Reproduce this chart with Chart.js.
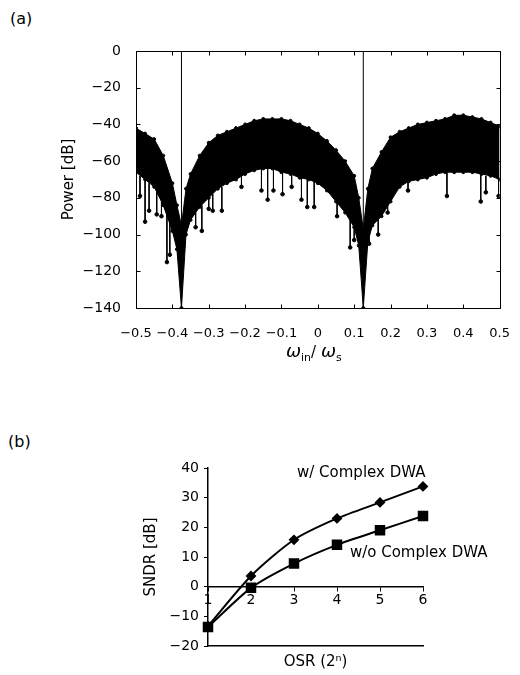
<!DOCTYPE html>
<html>
<head>
<meta charset="utf-8">
<script src="https://cdn.jsdelivr.net/npm/chart.js@4.4.1/dist/chart.umd.min.js"></script>
<style>
body { margin: 0; background: #fff; width: 520px; height: 675px; position: relative; overflow: hidden; font-family: "DejaVu Sans"; }
canvas { position: absolute; left: 0; }
#spectrum { top: 0; }
#sndr { top: 380px; }
.tag { position: absolute; font-size: 16px; color: #000; }
</style>
</head>
<body>
<div class="tag" style="left:10px;top:9px">(a)</div>
<div class="tag" style="left:8px;top:432px">(b)</div>
<canvas id="spectrum" width="520" height="380"></canvas>
<canvas id="sndr" width="520" height="295"></canvas>
<script>
Chart.defaults.font.family = 'DejaVu Sans';
Chart.defaults.font.size = 14;
Chart.defaults.color = '#000';

// (a) output spectrum: upper and lower edge of the dense noise band
var freq = [-0.5, -0.475, -0.45, -0.425, -0.4, -0.3875, -0.375, -0.3625, -0.35, -0.325, -0.3, -0.275, -0.25,
	-0.225, -0.2, -0.175, -0.15, -0.125, -0.1, -0.075, -0.05, -0.025, 0, 0.025, 0.05, 0.075, 0.1,
	0.1125, 0.125, 0.1375, 0.15, 0.175, 0.2, 0.225, 0.25, 0.275, 0.3, 0.325, 0.35, 0.375, 0.4,
	0.425, 0.45, 0.475, 0.5];
var noiseTop = [-42, -45, -48, -57, -72, -84, -95, -75, -67, -57, -50, -46, -44,
	-42, -40, -38, -37, -37, -37, -38, -40, -42, -45, -49, -54, -60, -68,
	-80, -97, -75, -64, -55, -47, -44, -42, -40, -39, -38, -37, -35, -35,
	-36, -37, -39, -41];
var noiseBottom = [-66, -70, -74, -84, -98, -108, -140, -100, -92, -85, -80, -75, -72,
	-70, -67, -65, -64, -64, -66, -67, -69, -70, -72, -76, -82, -88, -96,
	-106, -140, -104, -95, -90, -82, -74, -71, -70, -69, -67, -66, -66, -66,
	-66, -67, -68, -70];

// isolated deep bins below the band
var spikeX = [-0.489, -0.475, -0.464, -0.443, -0.43, -0.415, -0.407, -0.336, -0.319, -0.3, -0.289, -0.264,
	-0.21, -0.155, -0.138, -0.122, -0.097, -0.072, -0.045, -0.029, -0.01, 0.053, 0.089, 0.1,
	0.141, 0.166, 0.192, 0.248, 0.355, 0.448, 0.462, 0.497];
var spikeTip = [-79, -93, -87, -89, -90, -115, -111, -96, -98, -86, -87, -87,
	-74, -76, -81, -76, -78, -74, -81, -85, -85, -90, -107, -103,
	-105, -100, -88, -76, -79, -82, -77, -79];
var spikeBase = [-68, -70, -72, -76, -80, -88, -92, -88, -84, -80, -78, -74,
	-68, -64, -64, -64, -66, -67, -69, -70, -71, -82, -92, -96,
	-96, -90, -80, -71, -66, -67, -68, -70];

// input tones
var toneX = [-0.375, 0.125];
var toneDB = [0, 0];

var freqTicks = { min: -0.5, max: 0.5, step: 0.1 };
var powerTicks = { min: -140, max: 0, step: 20 };

// (b) SNDR vs OSR
var osrExp = [1, 2, 3, 4, 5, 6];
var sndrWith = [-13.3, 3.6, 15.8, 23.0, 28.4, 33.8];
var sndrWithout = [-13.6, -0.4, 7.8, 14.1, 19.0, 23.8];
var seriesNames = ['w/ Complex DWA', 'w/o Complex DWA'];
var sndrTicks = { min: -20, max: 40, step: 10 };

function minus(s) {
	return String(s).replace('-', '\u2212');
}

function pts(xs, ys) {
	return xs.map(function(x, i) { return { x: x, y: ys[i] }; });
}

var spikePts = [];
spikeX.forEach(function(x, i) {
	spikePts.push({ x: x, y: spikeBase[i] }, { x: x, y: spikeTip[i] }, { x: x, y: null });
});
var tonePts = [];
toneX.forEach(function(x, i) {
	tonePts.push({ x: x, y: powerTicks.min }, { x: x, y: toneDB[i] }, { x: x, y: null });
});

// box around plot (a) with inward ticks on all four sides
var frameTicks = {
	id: 'frameTicks',
	afterDraw: function(chart) {
		var ctx = chart.ctx, a = chart.chartArea, xs = chart.scales.x, ys = chart.scales.y;
		var l = Math.round(a.left) + 0.5, r = Math.round(a.right) + 0.5;
		var t = Math.round(a.top) + 0.5, b = Math.round(a.bottom) + 0.5;
		ctx.save();
		ctx.strokeStyle = '#000';
		ctx.lineWidth = 1;
		ctx.beginPath();
		ctx.moveTo(l, t); ctx.lineTo(r, t); ctx.lineTo(r, b); ctx.lineTo(l, b); ctx.closePath();
		xs.ticks.forEach(function(tk) {
			var px = Math.round(xs.getPixelForValue(tk.value)) + 0.5;
			ctx.moveTo(px, b); ctx.lineTo(px, b - 4);
			ctx.moveTo(px, t); ctx.lineTo(px, t + 4);
		});
		ys.ticks.forEach(function(tk) {
			var py = Math.round(ys.getPixelForValue(tk.value)) + 0.5;
			ctx.moveTo(l, py); ctx.lineTo(l + 4, py);
			ctx.moveTo(r, py); ctx.lineTo(r - 4, py);
		});
		ctx.stroke();
		ctx.restore();
	}
};

// x title of (a): omega_in / omega_s with subscripts
var omegaTitle = {
	id: 'omegaTitle',
	afterDraw: function(chart) {
		var ctx = chart.ctx, a = chart.chartArea;
		var parts = [
			['\u03c9', 'italic 18px "DejaVu Sans"', 0],
			['in', '11px "DejaVu Sans"', 4],
			['/ ', '15px "DejaVu Sans"', 0],
			['\u03c9', 'italic 18px "DejaVu Sans"', 0],
			['s', '11px "DejaVu Sans"', 4]
		];
		ctx.save();
		ctx.fillStyle = '#000';
		ctx.textBaseline = 'alphabetic';
		var total = 0;
		parts.forEach(function(p) { ctx.font = p[1]; total += ctx.measureText(p[0]).width; });
		var x = (a.left + a.right) / 2 - total / 2 - 4;
		var y = a.bottom + 49;
		parts.forEach(function(p) {
			ctx.font = p[1];
			ctx.fillText(p[0], x, y + p[2]);
			x += ctx.measureText(p[0]).width;
		});
		ctx.restore();
	}
};

new Chart(document.getElementById('spectrum'), {
	type: 'line',
	data: {
		datasets: [
			{
				data: pts(freq, noiseTop),
				borderColor: '#000',
				backgroundColor: '#000',
				borderWidth: 1,
				pointRadius: 1.5,
				pointBackgroundColor: '#000',
				fill: '+1'
			},
			{
				data: pts(freq, noiseBottom),
				borderColor: '#000',
				backgroundColor: '#000',
				borderWidth: 1,
				pointRadius: 1.5,
				pointBackgroundColor: '#000',
				fill: false
			},
			{
				data: spikePts,
				borderColor: '#000',
				borderWidth: 1,
				pointRadius: function(c) { return c.dataIndex % 3 === 1 ? 1.8 : 0; },
				pointBackgroundColor: '#000',
				fill: false
			},
			{
				data: tonePts,
				borderColor: '#000',
				borderWidth: 1,
				pointRadius: 0,
				fill: false
			}
		]
	},
	options: {
		responsive: false,
		animation: false,
		layout: { padding: { top: 51, right: 19, left: 56, bottom: 0 } },
		plugins: { legend: { display: false }, tooltip: { enabled: false } },
		scales: {
			x: {
				type: 'linear',
				min: freqTicks.min,
				max: freqTicks.max,
				afterFit: function(s) { s.height = 72; },
				grid: { display: false },
				border: { display: false },
				ticks: {
					stepSize: freqTicks.step,
					autoSkip: false,
					maxRotation: 0,
					padding: 10,
					font: { size: 13 },
					callback: function(v) {
						var r = Math.round(v * 10) / 10;
						return r === 0 ? '0' : minus(r.toFixed(1));
					}
				}
			},
			y: {
				min: powerTicks.min,
				max: powerTicks.max,
				afterFit: function(s) { s.width = 80; },
				grid: { display: false },
				border: { display: false },
				ticks: {
					stepSize: powerTicks.step,
					padding: 7,
					callback: function(v) { return minus(v); }
				},
				title: { display: true, text: 'Power [dB]', font: { size: 15 } }
			}
		}
	},
	plugins: [frameTicks, omegaTitle]
});

// series names written next to their curves in (b)
var seriesNotes = {
	id: 'seriesNotes',
	afterDatasetsDraw: function(chart, args, opts) {
		var ctx = chart.ctx, xs = chart.scales.x, ys = chart.scales.y;
		ctx.save();
		ctx.fillStyle = '#000';
		ctx.font = '15px "DejaVu Sans"';
		ctx.textAlign = 'left';
		ctx.textBaseline = 'middle';
		opts.at.forEach(function(p, i) {
			ctx.fillText(chart.data.datasets[i].label, xs.getPixelForValue(p[0]), ys.getPixelForValue(p[1]));
		});
		ctx.restore();
	}
};

new Chart(document.getElementById('sndr'), {
	type: 'line',
	data: {
		datasets: [
			{
				label: seriesNames[0],
				data: pts(osrExp, sndrWith),
				borderColor: '#000',
				backgroundColor: '#000',
				borderWidth: 2,
				tension: 0.25,
				pointStyle: 'rectRot',
				pointRadius: 4,
				fill: false
			},
			{
				label: seriesNames[1],
				data: pts(osrExp, sndrWithout),
				borderColor: '#000',
				backgroundColor: '#000',
				borderWidth: 2,
				tension: 0.25,
				pointStyle: 'rect',
				pointRadius: 6,
				fill: false
			}
		]
	},
	options: {
		responsive: false,
		animation: false,
		clip: false,
		layout: { padding: { top: 88, right: 97, left: 138, bottom: 0 } },
		plugins: {
			legend: { display: false },
			tooltip: { enabled: false },
			seriesNotes: { at: [[3.07, 38.3], [4.3, 11.4]] }
		},
		scales: {
			x: {
				type: 'linear',
				position: { y: 0 },
				min: 1,
				max: 6,
				grid: { drawOnChartArea: false, tickLength: 4, tickColor: '#000' },
				border: { color: '#000', width: 1.5 },
				ticks: { stepSize: 1, padding: 1 }
			},
			x2: {
				type: 'linear',
				position: 'bottom',
				min: 1,
				max: 6,
				afterFit: function(s) { s.height = 29; },
				grid: { display: false },
				border: { display: true, color: '#000', width: 1.5 },
				ticks: { display: false },
				title: { display: true, text: 'OSR (2\u207f)', font: { size: 15 } }
			},
			y: {
				min: sndrTicks.min,
				max: sndrTicks.max,
				afterFit: function(s) { s.width = 70; },
				grid: { drawOnChartArea: false, tickLength: 4, tickColor: '#000' },
				border: { color: '#000', width: 1.5 },
				ticks: {
					stepSize: sndrTicks.step,
					padding: 5,
					callback: function(v) { return minus(v); }
				},
				title: { display: true, text: 'SNDR [dB]', font: { size: 15 } }
			}
		}
	},
	plugins: [seriesNotes]
});
</script>
</body>
</html>
